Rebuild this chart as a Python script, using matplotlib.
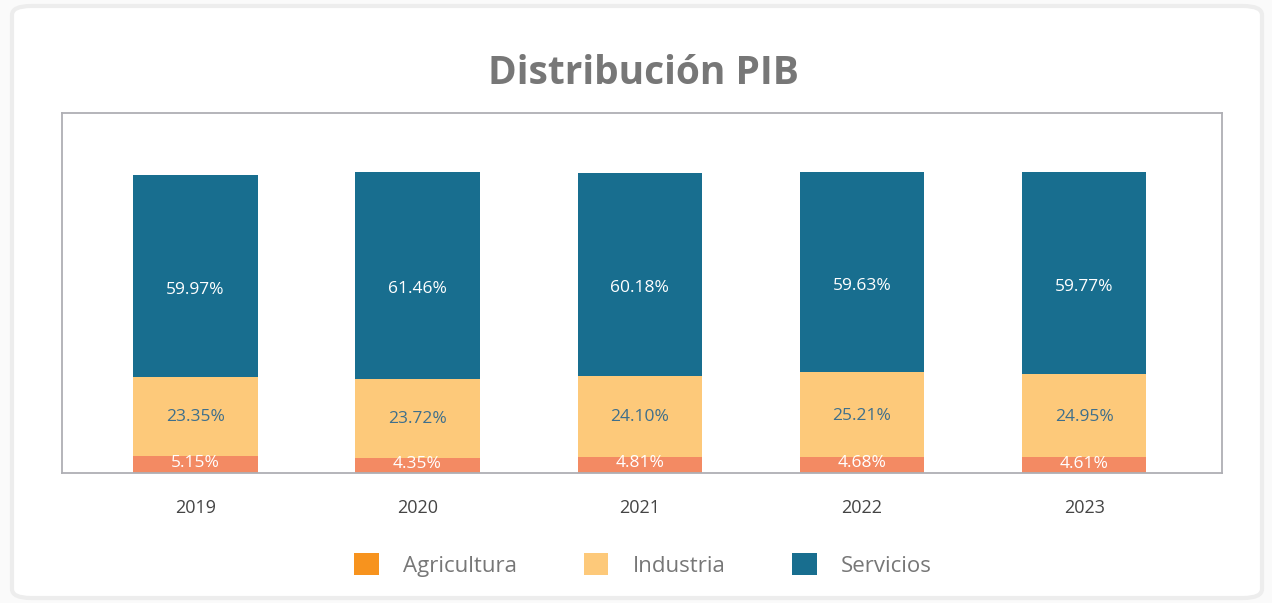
import matplotlib.pyplot as plt
import numpy as np
from matplotlib.patches import FancyBboxPatch, Patch

years = ['2019', '2020', '2021', '2022', '2023']
agricultura = [5.15, 4.35, 4.81, 4.68, 4.61]
industria = [23.35, 23.72, 24.10, 25.21, 24.95]
servicios = [59.97, 61.46, 60.18, 59.63, 59.77]

c_agri_bar = '#F38A63'
c_agri_leg = '#F7931E'
c_ind = '#FDC97A'
c_serv = '#186E8F'
c_text = '#777777'

plt.rcParams['font.family'] = ['Open Sans', 'DejaVu Sans']


def graphique():
	fig = plt.figure(figsize=(12.72, 6.03), dpi=100)
	fig.patch.set_facecolor('#FAFAFA')

	# card background
	card = FancyBboxPatch((12 / 1272, 5 / 603), 1250 / 1272, 592 / 603,
		boxstyle='round,pad=0,rounding_size=0.015', transform=fig.transFigure,
		facecolor='white', edgecolor='#EDEDED', linewidth=3, zorder=-5)
	fig.patches.append(card)

	ax = fig.add_axes([62 / 1272, 1 - 473 / 603, 1160 / 1272, 360 / 603])
	ax.set_zorder(1)
	x = np.arange(len(years))
	w = 0.56
	agri = np.array(agricultura)
	ind = np.array(industria)
	serv = np.array(servicios)

	ax.bar(x, agri, w, color=c_agri_bar, zorder=2)
	ax.bar(x, ind, w, bottom=agri, color=c_ind, zorder=2)
	ax.bar(x, serv, w, bottom=agri + ind, color=c_serv, zorder=2)

	for i in range(len(years)):
		ax.text(x[i], agri[i] / 2 + 0.5, f"{agri[i]:.2f}%", ha='center', va='center',
			color='white', fontsize=12.5, zorder=3)
		ax.text(x[i], agri[i] + ind[i] / 2 - 0.3, f"{ind[i]:.2f}%", ha='center', va='center',
			color='#3E6F8C', fontsize=12.5, zorder=3)
		ax.annotate(f"{serv[i]:.2f}%", (x[i], agri[i] + ind[i] + serv[i] / 2),
			xytext=(0, -10), textcoords='offset points', ha='center', va='center',
			color='white', fontsize=12.5, zorder=3)

	ax.set_xlim(-0.6, 4.62)
	ax.set_ylim(0, 107)
	ax.set_yticks([])
	ax.set_xticks(x)
	ax.set_xticklabels(years, fontsize=13, color='#444444')
	ax.tick_params(axis='x', length=0, pad=19)
	for s in ax.spines.values():
		s.set_color('#AFAFB4')
		s.set_linewidth(1.3)

	fig.text(643 / 1272, 1 - 73 / 603, 'Distribución PIB', ha='center', va='center',
		fontsize=28, fontweight='bold', color=c_text)

	handles = [Patch(facecolor=c_agri_leg), Patch(facecolor=c_ind), Patch(facecolor=c_serv)]
	fig.legend(handles, ['Agricultura', 'Industria', 'Servicios'], loc='center',
		bbox_to_anchor=(643 / 1272, 1 - 565 / 603), ncol=3, frameon=False,
		fontsize=16, labelcolor=c_text, handlelength=1.1, handleheight=1.1,
		handletextpad=1.1, columnspacing=3.0)

	fig.savefig('out.png', dpi=100, facecolor=fig.get_facecolor())


def main():
	graphique()


if __name__ == '__main__':
	main()
